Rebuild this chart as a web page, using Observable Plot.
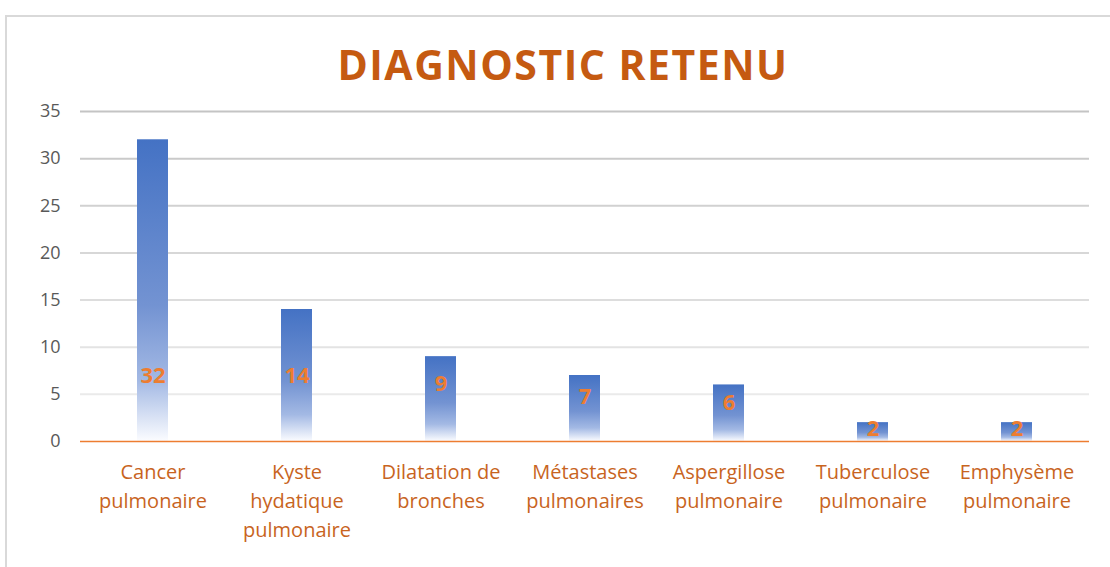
<!DOCTYPE html>
<html><head><meta charset="utf-8">
<script src="https://cdn.jsdelivr.net/npm/d3@7"></script>
<script src="https://cdn.jsdelivr.net/npm/@observablehq/plot@0.6"></script>
<style>
body{margin:0;background:#fff;width:1110px;height:567px;overflow:hidden;position:relative;font-family:"Open Sans",sans-serif}
#frame{position:absolute;left:5px;top:15px;width:1200px;height:700px;border:2px solid #d9d9d9;box-sizing:border-box}
#title{position:absolute;left:0;width:1126px;top:36px;text-align:center;font-weight:700;font-size:41px;color:#C55A11;letter-spacing:1.5px}
#chart{position:absolute;left:0;top:100px}
</style></head>
<body>
<div id="frame"></div>
<div id="title">DIAGNOSTIC RETENU</div>
<div id="chart"></div>
<script>
const categories = ["Cancer pulmonaire","Kyste hydatique pulmonaire","Dilatation de bronches","Métastases pulmonaires","Aspergillose pulmonaire","Tuberculose pulmonaire","Emphysème pulmonaire"];
const tickLabels = ["Cancer\npulmonaire","Kyste\nhydatique\npulmonaire","Dilatation de\nbronches","Métastases\npulmonaires","Aspergillose\npulmonaire","Tuberculose\npulmonaire","Emphysème\npulmonaire"];
const values = [32,14,9,7,6,2,2];
const yTicks = [0,5,10,15,20,25,30,35];

const data = categories.map((c,i)=>({cat:c,value:values[i]}));
const labelOf = new Map(categories.map((c,i)=>[c,tickLabels[i]]));
const gridColor = d3.interpolateRgb("#f0f0f0","#c4c4c4");

const plot = Plot.plot({
  width:1110, height:467,
  marginLeft:80, marginRight:21, marginTop:11, marginBottom:126,
  style:{fontFamily:"'Open Sans', sans-serif", background:"transparent", overflow:"visible"},
  x:{domain:categories, paddingInner:0.785, paddingOuter:0.3925, label:null},
  y:{domain:[0,35], label:null},
  marks:[
    Plot.ruleY(yTicks.filter(t=>t>0), {stroke:d=>gridColor(d/35), strokeWidth:2}),
    Plot.barY(data, {x:"cat", y:"value", fill:"url(#barGrad)"}),
    Plot.ruleY([0], {stroke:"#ED7D31", strokeWidth:1.5}),
    Plot.text(data, {x:"cat", y:d=>Math.min(d.value*0.68,6.9), text:d=>String(d.value), fill:"#ED7D31", fontWeight:"bold", fontSize:22}),
    Plot.axisY({ticks:yTicks, tickSize:0, tickPadding:20, fontSize:18, color:"#595959"}),
    Plot.axisX({tickSize:0, tickPadding:17, fontSize:20, lineHeight:1.45, color:"#C8641E", tickFormat:d=>labelOf.get(d)})
  ]
});
plot.querySelectorAll('[aria-label="y-axis tick label"]').forEach(g=>g.setAttribute("fill","#595959"));
plot.querySelectorAll('[aria-label="x-axis tick label"]').forEach(g=>g.setAttribute("fill","#C8641E"));
const ns="http://www.w3.org/2000/svg";
const defs=document.createElementNS(ns,"defs");
defs.innerHTML='<linearGradient id="barGrad" x1="0" y1="0" x2="0" y2="1"><stop offset="0" stop-color="#4472C4"/><stop offset="0.55" stop-color="#7393d2"/><stop offset="0.8" stop-color="#a3b9e4"/><stop offset="1" stop-color="#fbfcff"/></linearGradient>';
plot.insertBefore(defs, plot.firstChild);
document.getElementById("chart").appendChild(plot);
</script>
</body></html>
